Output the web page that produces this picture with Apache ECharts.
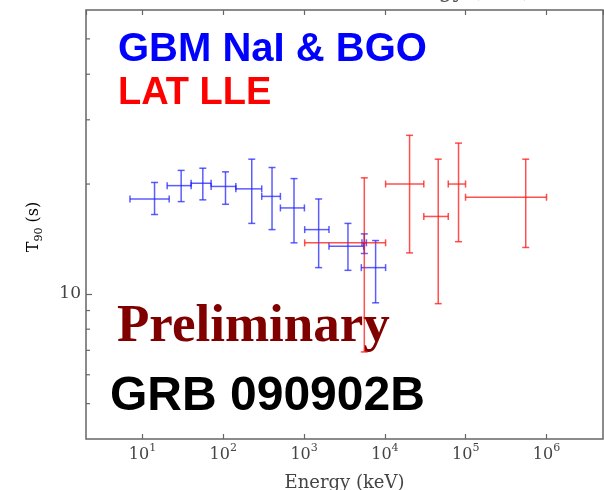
<!DOCTYPE html>
<html><head><meta charset="utf-8">
<script src="https://cdn.jsdelivr.net/npm/echarts@6/dist/echarts.min.js"></script>
<style>html,body{margin:0;padding:0;background:#fff}#c{width:604px;height:490px}</style>
</head><body><div id="c"></div>
<script>
// GBM NaI & BGO points (energy in keV, T90 in s)
const gbmEnergy    = [14.1, 30.1, 55.8, 106.5, 225, 401, 750, 1514, 3490, 5560, 7673];
const gbmEnergyLow = [7.0, 20.2, 40.0, 70.7, 143, 299, 509, 1017, 2032, 5200, 5108];
const gbmEnergyHigh= [21.4, 40.0, 70.7, 143, 299, 509, 1009, 2032, 5454, 5900, 10200];
const gbmT90       = [18.2, 19.8, 20.1, 19.7, 19.4, 18.5, 17.2, 15.0, 13.5, 13.8, 11.8];
const gbmT90Low    = [16.5, 17.9, 18.1, 17.6, 15.6, 15.0, 13.8, 11.8, 11.6, 12.9, 9.45];
const gbmT90High   = [20.2, 21.8, 22.1, 21.6, 23.4, 22.2, 20.7, 18.2, 15.6, 14.6, 14.0];
// LAT LLE points
const lleEnergy    = [5560, 20200, 45700, 81500, 553000];
const lleEnergyLow = [1017, 10200, 30300, 60800, 99500];
const lleEnergyHigh= [10200, 30300, 60800, 99500, 1000000];
const lleT90       = [13.8, 20.0, 16.3, 20.0, 18.4];
const lleT90Low    = [6.93, 12.95, 9.4, 13.9, 13.4];
const lleT90High   = [20.8, 27.2, 23.4, 25.9, 23.4];
// axes
const xRange = [2, 5e6];
const yRange = [4, 60];
const yMinorTicks = [5, 6, 7, 8, 9, 20, 30, 40, 50];

const SERIF = '"DejaVu Serif", serif';
const AX = '#444';

function rows(E, El, Eh, T, Tl, Th) { return E.map((e, i) => [e, El[i], Eh[i], T[i], Tl[i], Th[i]]); }
function isPow10(v) { const l = Math.log10(v); return Math.abs(l - Math.round(l)) < 1e-6; }
function errRender(color) {
  return function (params, api) {
    const c = api.coord([api.value(0), api.value(3)]);
    const l = api.coord([api.value(1), api.value(3)]);
    const r = api.coord([api.value(2), api.value(3)]);
    const b = api.coord([api.value(0), api.value(4)]);
    const t = api.coord([api.value(0), api.value(5)]);
    const h = 3.5;
    const segs = [
      [l[0], c[1], r[0], c[1]], [c[0], t[1], c[0], b[1]],
      [l[0], c[1] - h, l[0], c[1] + h], [r[0], c[1] - h, r[0], c[1] + h],
      [c[0] - h, t[1], c[0] + h, t[1]], [c[0] - h, b[1], c[0] + h, b[1]]
    ];
    return { type: 'group', children: segs.map(s => ({
      type: 'line', shape: { x1: s[0], y1: s[1], x2: s[2], y2: s[3] },
      style: { stroke: color, lineWidth: 1.5 } })) };
  };
}

const chart = echarts.init(document.getElementById('c'));
chart.setOption({
  animation: false,
  grid: { left: 86, right: 1, top: 10, bottom: 51, containLabel: false, outerBoundsMode: 'none',
          show: true, borderColor: '#666', borderWidth: 1.5, backgroundColor: 'transparent' },
  xAxis: [{
    type: 'log', min: xRange[0], max: xRange[1], position: 'bottom',
    axisLine: { show: false }, splitLine: { show: false },
    axisTick: { inside: true, length: 5, lineStyle: { color: '#666', width: 1.2 } },
    axisLabel: {
      margin: 4, showMinLabel: false, showMaxLabel: false,
      formatter: v => isPow10(v) ? '{b|10}{s|' + Math.round(Math.log10(v)) + '}' : '',
      rich: {
        b: { fontFamily: SERIF, fontSize: 16, color: AX, lineHeight: 20, verticalAlign: 'bottom' },
        s: { fontFamily: SERIF, fontSize: 11, color: AX, lineHeight: 11, verticalAlign: 'top' }
      }
    },
    name: 'Energy (keV)', nameLocation: 'middle', nameGap: 35,
    nameTextStyle: { fontFamily: SERIF, fontSize: 18, color: AX }
  }, {
    type: 'log', min: xRange[0], max: xRange[1], position: 'top',
    axisLine: { show: false }, splitLine: { show: false }, axisLabel: { show: false },
    axisTick: { inside: true, length: 5, lineStyle: { color: '#666', width: 1.2 } }
  }],
  yAxis: [{
    type: 'log', min: yRange[0], max: yRange[1],
    axisLine: { show: false }, splitLine: { show: false },
    axisTick: { inside: true, length: 6, lineStyle: { color: '#666', width: 1.2 } },
    axisLabel: {
      margin: 5, showMinLabel: false, showMaxLabel: false,
      fontFamily: SERIF, fontSize: 17, color: AX,
      formatter: v => isPow10(v) ? String(Math.round(v)) : ''
    }
  }],
  series: [{
    type: 'custom', name: 'minor', silent: true,
    data: yMinorTicks.map(v => [xRange[0], v]),
    renderItem: function (params, api) {
      const p = api.coord([api.value(0), api.value(1)]);
      return { type: 'line', shape: { x1: p[0], y1: p[1], x2: p[0] + 4, y2: p[1] }, style: { stroke: '#666', lineWidth: 1.2 } };
    }
  }, {
    type: 'custom', name: 'GBM', silent: true,
    data: rows(gbmEnergy, gbmEnergyLow, gbmEnergyHigh, gbmT90, gbmT90Low, gbmT90High),
    encode: { x: 0, y: 3 },
    renderItem: errRender('rgba(30,30,255,0.72)')
  }, {
    type: 'custom', name: 'LLE', silent: true,
    data: rows(lleEnergy, lleEnergyLow, lleEnergyHigh, lleT90, lleT90Low, lleT90High),
    encode: { x: 0, y: 3 },
    renderItem: errRender('rgba(255,20,20,0.75)')
  }],
  graphic: [
    { type: 'text', x: 35, y: 227, rotation: Math.PI / 2,
      style: { text: '{a|T}{s|90}{a| (s)}', align: 'center', verticalAlign: 'middle',
        rich: { a: { fontFamily: SERIF, fontSize: 16, color: AX, lineHeight: 19, verticalAlign: 'top' },
                s: { fontFamily: SERIF, fontSize: 11, color: AX, lineHeight: 11, verticalAlign: 'bottom' } } } },
    { type: 'text', x: 458, y: -9,
      style: { text: 'Energy (keV)', fontFamily: SERIF, fontSize: 22, fill: '#555', align: 'center', verticalAlign: 'middle' } },
    { type: 'text', x: 118, y: 50,
      style: { text: 'GBM NaI & BGO', fontFamily: '"Liberation Sans", Arial, sans-serif', fontWeight: 'bold', fontSize: 40, fill: '#0000ff', align: 'left', verticalAlign: 'middle' } },
    { type: 'text', x: 118, y: 94,
      style: { text: 'LAT LLE', fontFamily: '"Liberation Sans", Arial, sans-serif', fontWeight: 'bold', fontSize: 38, fill: '#ff0000', align: 'left', verticalAlign: 'middle' } },
    { type: 'text', x: 117, y: 327,
      style: { text: 'Preliminary', fontFamily: '"Liberation Serif", "Times New Roman", serif', fontWeight: 'bold', fontSize: 53, fill: '#800000', align: 'left', verticalAlign: 'middle' } },
    { type: 'text', x: 110, y: 397,
      style: { text: 'GRB 090902B', fontFamily: '"Liberation Sans", Arial, sans-serif', fontWeight: 'bold', fontSize: 48, fill: '#000', align: 'left', verticalAlign: 'middle' } }
  ]
});
</script>
</body></html>
